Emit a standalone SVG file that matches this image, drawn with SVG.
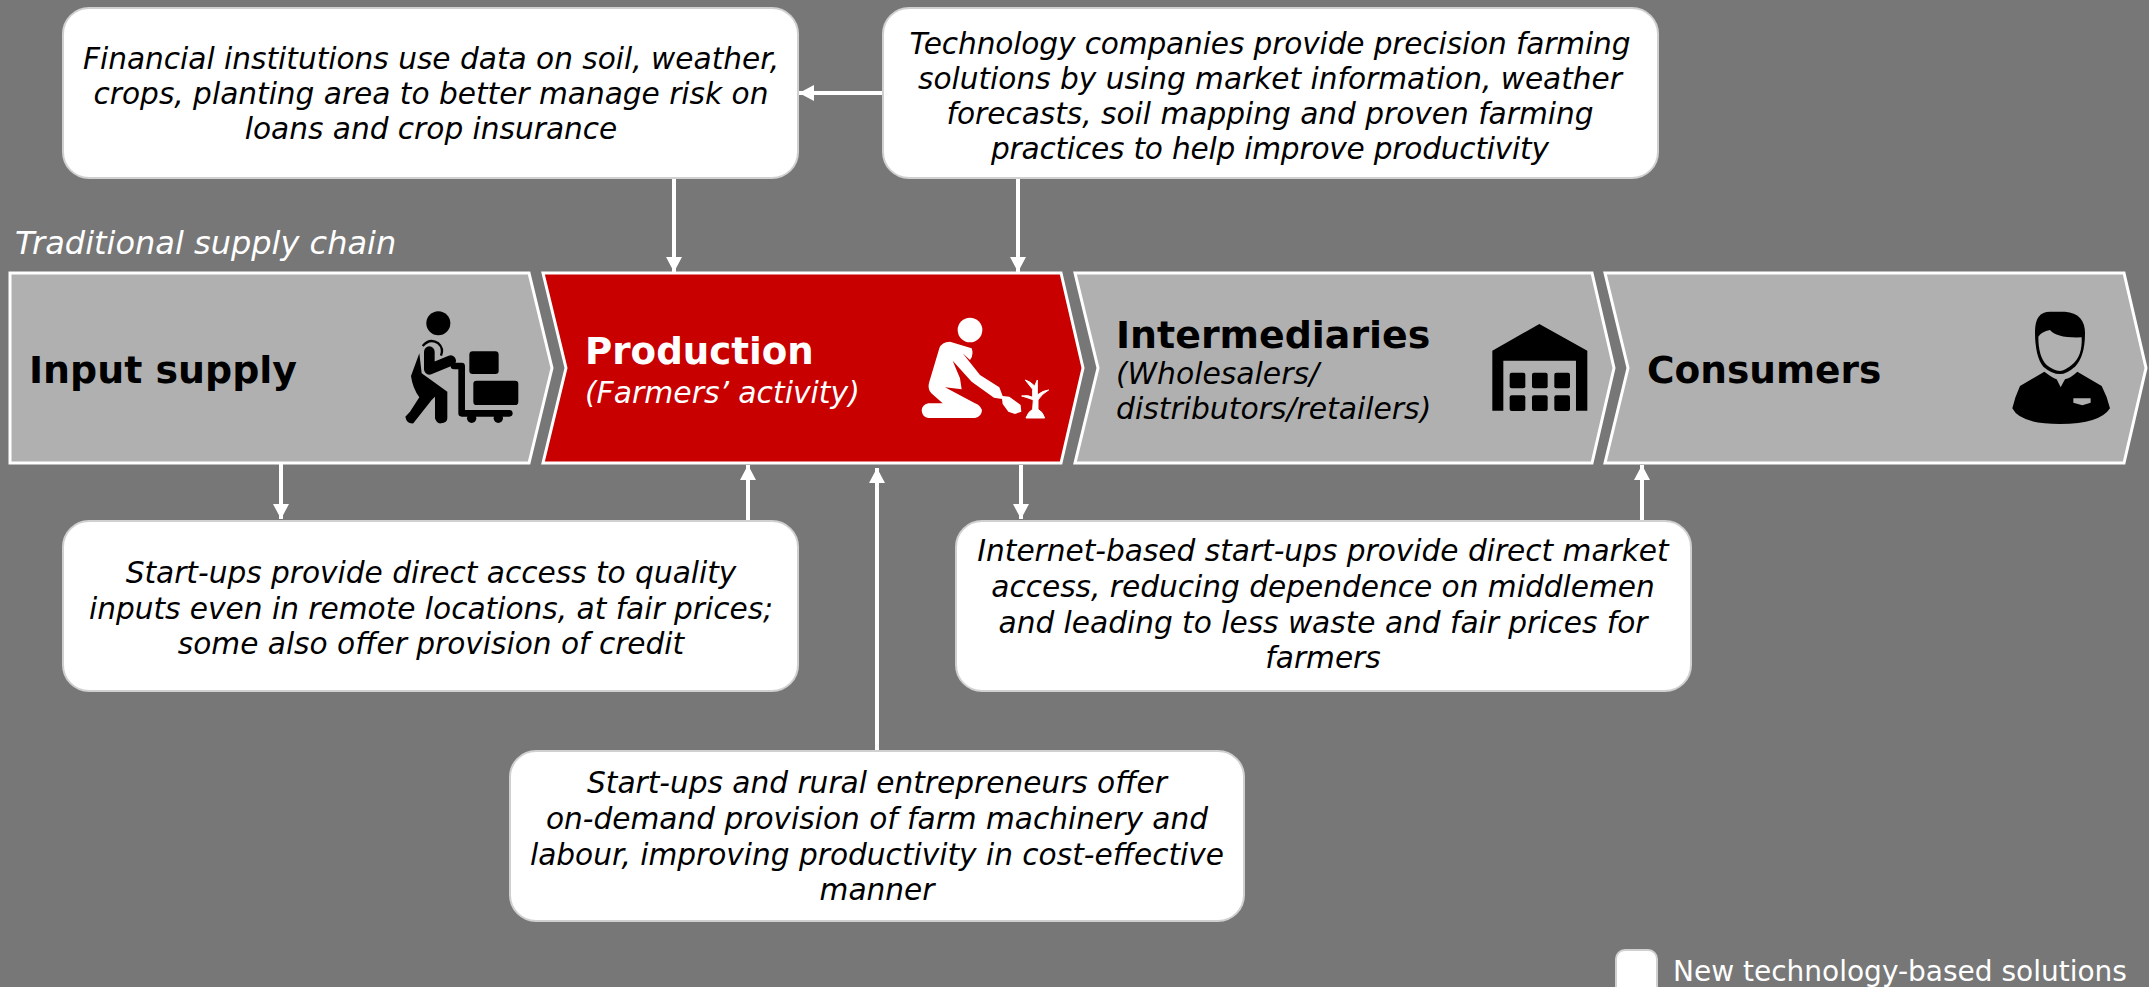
<svg xmlns="http://www.w3.org/2000/svg" width="2149" height="987" viewBox="0 0 2149 987">
<style>
text{font-family:"DejaVu Sans",Verdana,sans-serif}
.b{font-size:29.6px;font-style:italic;fill:#000;text-anchor:middle}
.h{font-size:37.5px;font-weight:bold;fill:#000}
.s{font-size:29.8px;font-style:italic;fill:#000}
.ch{fill:#b0b0b0;stroke:#fff;stroke-width:3}
.box{fill:#fff;stroke:#d0d0d0;stroke-width:2}
.c{stroke:#fff;stroke-width:4;fill:none;marker-end:url(#a)}
</style>
<defs><marker id="a" markerUnits="userSpaceOnUse" markerWidth="16" markerHeight="16" refX="15" refY="8" orient="auto"><path d="M0,0L15,8L0,16Z" fill="#fff"/></marker></defs>
<rect width="2149" height="987" fill="#777"/>
<text id="t" x="15" y="254" style="font-size:32px;font-style:italic;fill:#fff">Traditional supply chain</text>
<g id="input-supply"><path class="ch" d="M10,273H529L552,368L529,463H10Z"/><text x="29" y="383" class="h" style="font-size:37.9px">Input supply</text>
<g transform="translate(380,290) scale(.3333)"><circle cx="175" cy="100" r="36"/><path d="M128,168Q150,143 175,160Q192,175 183,197" fill="none" stroke="#000" stroke-width="7"/><path d="M148,185V238L212,212" fill="none" stroke="#000" stroke-width="32" stroke-linecap="round" stroke-linejoin="round"/><path d="M118,190L93,258Q98,295 118,322L90,365L76,380Q80,402 100,400L155,330L165,320V385Q170,402 183,400Q202,398 202,385V305L150,268L125,250Z"/><path d="M222,228H245V370H388" fill="none" stroke="#000" stroke-width="20" stroke-linecap="round" stroke-linejoin="round"/><circle cx="275" cy="385" r="14"/><circle cx="355" cy="385" r="14"/><rect x="268" y="184" width="88" height="68" rx="10"/><rect x="280" y="272" width="135" height="73" rx="10"/></g></g>
<g id="production"><path fill="#c80000" stroke="#fff" stroke-width="3" d="M543,273H1061L1083,368L1061,463H543L566,368Z"/><text x="585" y="364" class="h" style="font-size:37.2px;fill:#fff">Production</text><text x="585" y="403" class="s" style="fill:#fff">(Farmers’ activity)</text>
<g transform="translate(900,300) scale(.3333)" fill="#fff"><circle cx="210" cy="90" r="37"/><path d="M150,125Q125,125 118,145L88,245Q80,270 100,285L128,310H85Q65,315 65,332Q68,352 85,354H225Q245,350 246,330Q240,315 225,310L135,262L185,268L180,235L158,182L215,245L282,293L306,297L308,312L325,335L345,342L364,335L362,315L328,290L308,288L298,262L240,225L188,160L210,180Q222,165 215,145Z"/><path stroke="#fff" stroke-width="3" stroke-linejoin="round" d="M378,354Q385,335 398,328L400,300Q392,296 365,288Q385,284 398,292L398,268L376,240Q390,244 404,258L412,240L412,285Q428,272 446,270Q425,282 414,300L414,328Q428,335 434,354Z"/></g></g>
<g id="intermediaries"><path class="ch" d="M1075,273H1592L1614,368L1592,463H1075L1098,368Z"/><text x="1116" y="348" class="h" style="font-size:37.9px">Intermediaries</text><text x="1116" y="384" class="s">(Wholesalers/</text><text x="1116" y="419" class="s">distributors/retailers)</text>
<g transform="translate(1470,310) scale(.3333)"><path d="M208,42L352,122V302H318V152H100V302H67V122Z"/><rect x="119" y="188" width="47" height="47" rx="6"/><rect x="186" y="188" width="47" height="47" rx="6"/><rect x="253" y="188" width="47" height="47" rx="6"/><rect x="119" y="256" width="47" height="47" rx="6"/><rect x="186" y="256" width="47" height="47" rx="6"/><rect x="253" y="256" width="47" height="47" rx="6"/></g></g>
<g id="consumers"><path class="ch" d="M1605,273H2124L2146,368L2124,463H1605L1628,368Z"/><text x="1647" y="383" class="h">Consumers</text>
<g transform="translate(2000,300) scale(.3333)"><path d="M105,95Q105,35 150,35H195Q255,40 255,100Q255,170 225,200Q200,222 180,222Q155,222 130,200Q105,170 105,95Z"/><path fill="#b0b0b0" d="M115,110Q125,95 150,90Q170,115 245,112Q248,170 215,195Q195,212 180,213Q160,212 140,195Q115,170 115,110Z"/><path d="M133,215Q160,235 170,238L182,262L195,238Q215,232 232,215L305,258Q322,290 330,325Q300,372 180,372Q60,372 37,325Q45,290 60,258Z"/><path fill="#b0b0b0" d="M220,295H272V308L247,316L220,308Z"/></g></g>
<g id="connectors"><path class="c" d="M882,93H799"/><path class="c" d="M674,178V272"/><path class="c" d="M1018,178V272"/><path class="c" d="M281,464V519"/><path class="c" d="M748,521V465"/><path class="c" d="M877,751V468"/><path class="c" d="M1021,465V519"/><path class="c" d="M1642,521V465"/></g>
<g id="financial"><rect class="box" x="63" y="8" width="735" height="170" rx="26"/><text class="b" x="431" y="69">Financial institutions use data on soil, weather,</text><text class="b" x="431" y="104">crops, planting area to better manage risk on</text><text class="b" x="431" y="139">loans and crop insurance</text></g>
<g id="technology"><rect class="box" x="883" y="8" width="775" height="170" rx="26"/><text class="b" x="1270" y="54" textLength="721">Technology companies provide precision farming</text><text class="b" x="1270" y="89">solutions by using market information, weather</text><text class="b" x="1270" y="124">forecasts, soil mapping and proven farming</text><text class="b" x="1270" y="159" textLength="558">practices to help improve productivity</text></g>
<g id="inputs-startups"><rect class="box" x="63" y="521" width="735" height="170" rx="26"/><text class="b" x="431" y="583">Start-ups provide direct access to quality</text><text class="b" x="431" y="619">inputs even in remote locations, at fair prices;</text><text class="b" x="431" y="654">some also offer provision of credit</text></g>
<g id="internet-startups"><rect class="box" x="956" y="521" width="735" height="170" rx="26"/><text class="b" x="1323" y="561">Internet-based start-ups provide direct market</text><text class="b" x="1323" y="597">access, reducing dependence on middlemen</text><text class="b" x="1323" y="633">and leading to less waste and fair prices for</text><text class="b" x="1323" y="668">farmers</text></g>
<g id="machinery"><rect class="box" x="510" y="751" width="734" height="170" rx="26"/><text class="b" x="877" y="793">Start-ups and rural entrepreneurs offer</text><text class="b" x="877" y="829">on-demand provision of farm machinery and</text><text class="b" x="877" y="865">labour, improving productivity in cost-effective</text><text class="b" x="877" y="900">manner</text></g>
<g id="legend"><rect class="box" x="1616" y="950" width="41" height="50" rx="9"/><text x="1673" y="981" style="font-size:28px;fill:#fff">New technology-based solutions</text></g>
</svg>
